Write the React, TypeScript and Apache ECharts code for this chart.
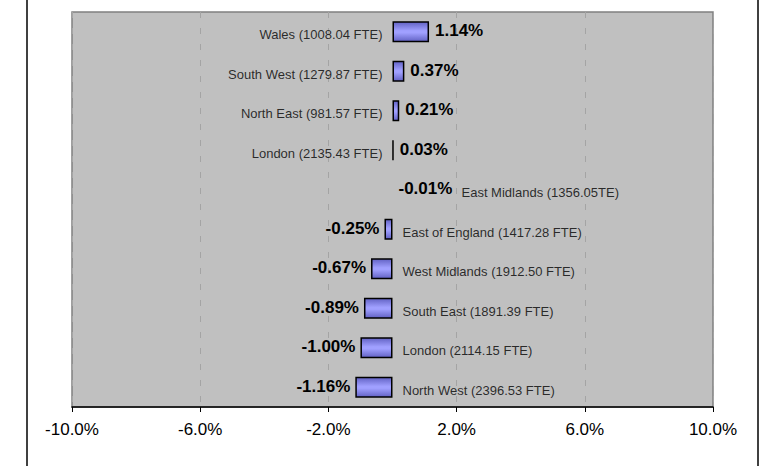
import React, { useEffect, useRef } from "react";
import * as echarts from "echarts";

const regions = [
  "Wales (1008.04 FTE)",
  "South West (1279.87 FTE)",
  "North East (981.57 FTE)",
  "London (2135.43 FTE)",
  "East Midlands (1356.05TE)",
  "East of England (1417.28 FTE)",
  "West Midlands (1912.50 FTE)",
  "South East (1891.39 FTE)",
  "London (2114.15 FTE)",
  "North West (2396.53 FTE)",
];
const changes = [1.14, 0.37, 0.21, 0.03, -0.01, -0.25, -0.67, -0.89, -1.0, -1.16];
const xMin = -10;
const xMax = 10;
const xStep = 4;

export default function App() {
  const ref = useRef<HTMLDivElement>(null);
  useEffect(() => {
    if (!ref.current) return;
    const chart = echarts.init(ref.current, null, { renderer: "svg" });
    const barFill = new echarts.graphic.LinearGradient(0, 0, 0, 1, [
      { offset: 0, color: "#6262c4" },
      { offset: 0.45, color: "#a0a0ff" },
      { offset: 0.55, color: "#a0a0ff" },
      { offset: 1, color: "#6262c4" },
    ]);
    const font = "Arial, 'Liberation Sans', sans-serif";
    chart.setOption({
      animation: false,
      grid: {
        left: 72,
        right: 53,
        top: 12,
        bottom: 59,
        show: true,
        backgroundColor: "#c0c0c0",
        borderColor: "#808080",
        borderWidth: 1.5,
      },
      xAxis: {
        type: "value",
        min: xMin,
        max: xMax,
        interval: xStep,
        axisLine: { show: true, onZero: false, lineStyle: { color: "#000", width: 1.5 } },
        axisTick: { show: true, length: 5, lineStyle: { color: "#000" } },
        axisLabel: {
          formatter: (v: number) => v.toFixed(1) + "%",
          fontFamily: font,
          fontSize: 17,
          color: "#000",
          margin: 14,
        },
        splitLine: {
          show: true,
          lineStyle: { color: "#a4a4a4", type: [6, 10], width: 1 },
        },
      },
      yAxis: {
        type: "category",
        data: regions,
        inverse: true,
        axisLine: { show: false },
        axisTick: { show: false },
        axisLabel: { show: false },
        splitLine: { show: false },
      },
      series: [
        {
          type: "bar",
          barWidth: 21,
          data: changes.map((v, i) => {
            const tiny = i === 4;
            return {
              value: v,
              itemStyle: tiny ? { color: "rgba(0,0,0,0)", borderWidth: 0 } : undefined,
              label: {
                show: true,
                position: v >= 0 || tiny ? "right" : "left",
                distance: v >= 0 || tiny ? 6 : 5,
                formatter: v.toFixed(2) + "%",
                fontFamily: font,
                fontWeight: "bold",
                fontSize: 17,
                color: "#000",
                offset: [0, -1],
              },
            };
          }),
          itemStyle: { color: barFill, borderColor: "#000", borderWidth: 1.5 },
        },
        {
          type: "scatter",
          symbolSize: 0,
          silent: true,
          data: regions.map((r, i) => {
            const v = changes[i];
            const pos = v >= 0 ? "left" : "right";
            const dist = i === 4 ? 69 : 10;
            return {
              value: [0, r],
              label: {
                show: true,
                position: pos,
                distance: dist,
                formatter: r,
                fontFamily: font,
                fontSize: 13,
                color: "#000",
                offset: [0, 3],
              },
            };
          }),
        },
      ],
      graphic: [
        { type: "line", shape: { x1: 27, y1: 0, x2: 27, y2: 466 }, style: { stroke: "#000", lineWidth: 1.5 } },
        { type: "line", shape: { x1: 758, y1: 0, x2: 758, y2: 466 }, style: { stroke: "#000", lineWidth: 1.5 } },
      ],
    });
    return () => chart.dispose();
  }, []);
  return <div ref={ref} style={{ width: 766, height: 466, position: "absolute", left: 0, top: 0 }} />;
}
